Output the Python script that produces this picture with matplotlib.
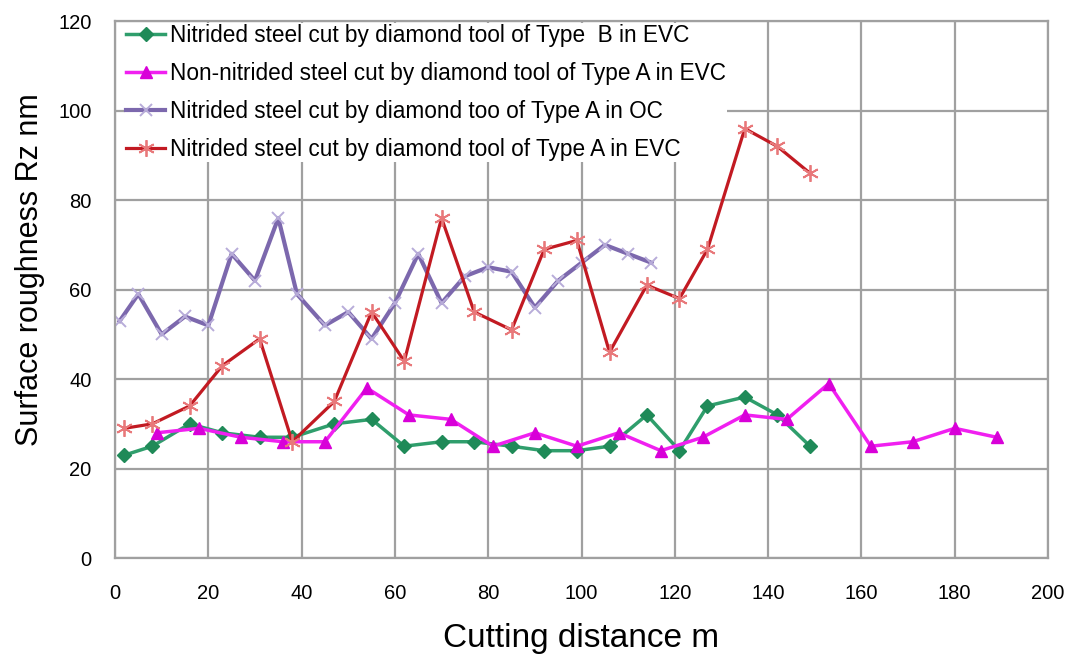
import matplotlib.pyplot as plt

plt.rcParams['font.family'] = ['Liberation Sans', 'DejaVu Sans']

# Nitrided steel, tool Type B, EVC
x_nit_b_evc = [2, 8, 16, 23, 31, 38, 47, 55, 62, 70, 77, 85, 92, 99, 106, 114, 121, 127, 135, 142, 149]
y_nit_b_evc = [23, 25, 30, 28, 27, 27, 30, 31, 25, 26, 26, 25, 24, 24, 25, 32, 24, 34, 36, 32, 25]

# Non-nitrided steel, tool Type A, EVC
x_non_a_evc = [9, 18, 27, 36, 45, 54, 63, 72, 81, 90, 99, 108, 117, 126, 135, 144, 153, 162, 171, 180, 189]
y_non_a_evc = [28, 29, 27, 26, 26, 38, 32, 31, 25, 28, 25, 28, 24, 27, 32, 31, 39, 25, 26, 29, 27]

# Nitrided steel, tool Type A, OC
x_nit_a_oc = [1, 5, 10, 15, 20, 25, 30, 35, 39, 45, 50, 55, 60, 65, 70, 75, 80, 85, 90, 95, 100, 105, 110, 115]
y_nit_a_oc = [53, 59, 50, 54, 52, 68, 62, 76, 59, 52, 55, 49, 57, 68, 57, 63, 65, 64, 56, 62, 66, 70, 68, 66]

# Nitrided steel, tool Type A, EVC
x_nit_a_evc = [2, 8, 16, 23, 31, 38, 47, 55, 62, 70, 77, 85, 92, 99, 106, 114, 121, 127, 135, 142, 149]
y_nit_a_evc = [29, 30, 34, 43, 49, 26, 35, 55, 44, 76, 55, 51, 69, 71, 46, 61, 58, 69, 96, 92, 86]

labels = [
    "Nitrided steel cut by diamond tool of Type  B in EVC",
    "Non-nitrided steel cut by diamond tool of Type A in EVC",
    "Nitrided steel cut by diamond too of Type A in OC",
    "Nitrided steel cut by diamond tool of Type A in EVC",
]

grid_color = "#a0a0a0"


def main():
    fig = plt.figure(figsize=(10.76, 6.62), dpi=100)
    ax = fig.add_axes([0.1069, 0.157, 0.8671, 0.811])

    ax.plot(x_nit_b_evc, y_nit_b_evc, color="#2f9e6c", lw=2.5, marker="D", ms=7,
            mfc="#1f8a58", mec="#1f8a58", label=labels[0])
    ax.plot(x_non_a_evc, y_non_a_evc, color="#f020f0", lw=2.5, marker="^", ms=9,
            mfc="#d800d8", mec="#d800d8", label=labels[1])
    ax.plot(x_nit_a_oc, y_nit_a_oc, color="#7c68ad", lw=3, marker="x", ms=9, mew=1.4,
            mec="#b8acd9", label=labels[2])
    ax.plot(x_nit_a_evc, y_nit_a_evc, color="#c21a22", lw=2.3, marker=(6, 2, 0), ms=12, mew=1.3,
            mec="#e8787a", label=labels[3])

    ax.set_xlim(0, 200)
    ax.set_ylim(0, 120)
    ax.set_xticks(range(0, 201, 20))
    ax.set_yticks(range(0, 121, 20))
    ax.grid(True, color=grid_color, lw=1.6)
    ax.set_axisbelow(True)
    for spine in ax.spines.values():
        spine.set_color(grid_color)
        spine.set_linewidth(1.6)
    ax.tick_params(length=0, labelsize=14.5, colors="black")
    ax.tick_params(axis="x", pad=19)
    ax.tick_params(axis="y", pad=17)

    ax.set_xlabel("Cutting distance m", fontsize=24, va="center")
    ax.xaxis.set_label_coords(0.5, -0.15)
    ax.set_ylabel("Surface roughness Rz nm", fontsize=22, va="center")
    ax.yaxis.set_label_coords(-0.091, 0.538)

    leg = ax.legend(loc="upper left", bbox_to_anchor=(0.011, 0.997), fontsize=16.3,
                    frameon=True, fancybox=False, framealpha=1, edgecolor="white",
                    borderpad=0.05, labelspacing=0.66, handlelength=1.7, handletextpad=0.22,
                    borderaxespad=0)
    leg.get_frame().set_linewidth(0)

    fig.savefig("out.png", dpi=100)


if __name__ == "__main__":
    main()
